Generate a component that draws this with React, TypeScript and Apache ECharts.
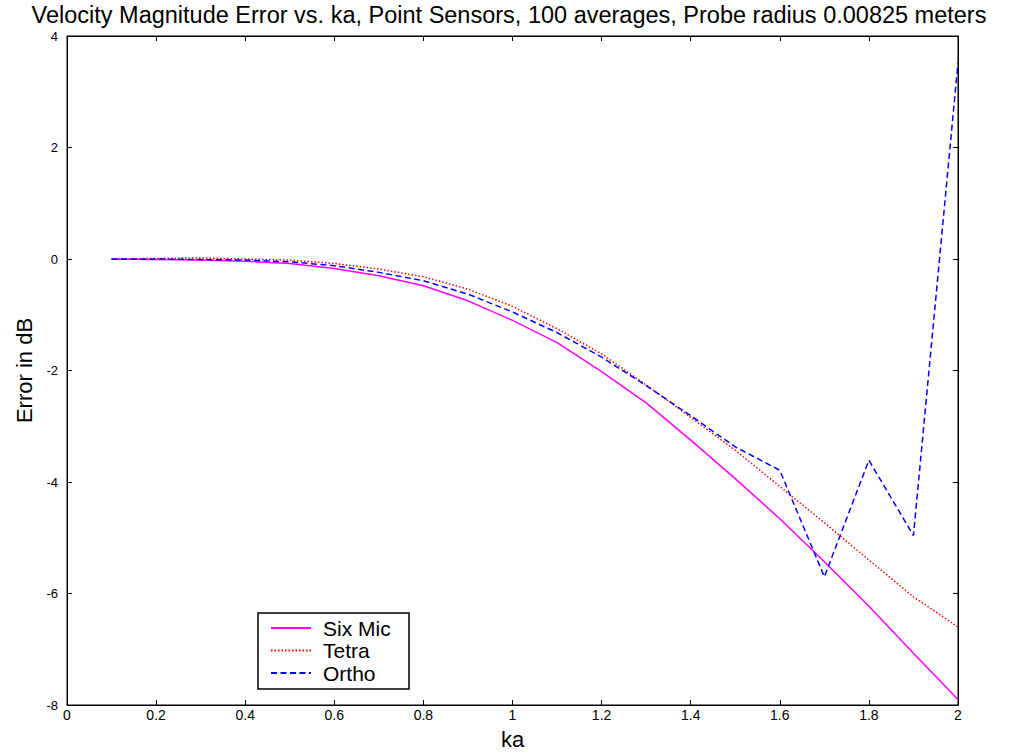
import React, { useEffect, useRef } from "react";
import * as echarts from "echarts";

const ka = [0.1, 0.2, 0.3, 0.4, 0.5, 0.6, 0.7, 0.8, 0.9, 1.0, 1.1, 1.2, 1.3, 1.4, 1.5, 1.6, 1.7, 1.8, 1.9, 2.0];
const sixMic = [0, -0.01, -0.02, -0.04, -0.08, -0.17, -0.30, -0.48, -0.75, -1.10, -1.50, -2.02, -2.58, -3.25, -3.94, -4.66, -5.43, -6.23, -7.07, -7.90];
const tetra = [0, 0.01, 0.02, 0.0, -0.02, -0.08, -0.18, -0.32, -0.54, -0.85, -1.25, -1.70, -2.26, -2.84, -3.43, -4.08, -4.73, -5.40, -6.06, -6.60];
const ortho = [0, 0, -0.01, -0.02, -0.05, -0.12, -0.24, -0.39, -0.63, -0.95, -1.32, -1.76, -2.27, -2.81, -3.37, -3.79, -5.70, -3.61, -4.96, 3.52];
const xTicks = [0, 0.2, 0.4, 0.6, 0.8, 1, 1.2, 1.4, 1.6, 1.8, 2];
const yTicks = [-8, -6, -4, -2, 0, 2, 4];

const FONT = "Liberation Sans, Arial, sans-serif";

export default function App() {
  const ref = useRef<HTMLDivElement>(null);
  useEffect(() => {
    if (!ref.current) return;
    const chart = echarts.init(ref.current, undefined, { renderer: "svg" });
    const pair = (ys: number[]) => ka.map((x, i) => [x, ys[i]]);
    const fmtX = (v: number) => {
      const r = Math.round(v * 10) / 10;
      return xTicks.includes(r) ? String(r) : "";
    };
    const axisCommon = {
      axisLine: { show: true, onZero: false, lineStyle: { color: "#000", width: 1 } },
      axisTick: { show: true, inside: true, length: 5, lineStyle: { color: "#000" } },
      splitLine: { show: false },
    };
    chart.setOption({
      animation: false,
      backgroundColor: "#fff",
      title: {
        text: "Velocity Magnitude Error vs. ka, Point Sensors, 100 averages, Probe radius 0.00825 meters",
        left: "center",
        top: 2,
        padding: 0,
        textStyle: { fontFamily: FONT, fontSize: 23.5, fontWeight: "normal", color: "#000", lineHeight: 26 },
      },
      grid: { left: 67, top: 36, width: 891, height: 671, show: true, borderColor: "#000", borderWidth: 1 },
      legend: {
        left: 258,
        top: 613,
        orient: "vertical",
        backgroundColor: "#fff",
        borderColor: "#000",
        borderWidth: 1.5,
        borderRadius: 0,
        padding: [4, 10, 5, 12],
        itemGap: 0.5,
        itemWidth: 40,
        itemHeight: 14,
        itemStyle: { opacity: 0, borderWidth: 0 },
        textStyle: { fontFamily: FONT, fontSize: 21, color: "#000", lineHeight: 22, width: 76, padding: [0, 0, 0, 7] },
        data: ["Six Mic", "Tetra", "Ortho"],
      },
      xAxis: [
        {
          type: "value",
          min: 0,
          max: 2,
          interval: 0.2,
          position: "bottom",
          name: "ka",
          nameLocation: "middle",
          nameGap: 23,
          nameTextStyle: { fontFamily: FONT, fontSize: 22, color: "#000" },
          axisLabel: { fontFamily: FONT, fontSize: 14, color: "#000", margin: 3, formatter: fmtX },
          ...axisCommon,
        },
        {
          type: "value",
          min: 0,
          max: 2,
          interval: 0.2,
          position: "top",
          axisLabel: { show: false },
          ...axisCommon,
        },
      ],
      yAxis: [
        {
          type: "value",
          min: -8,
          max: 4,
          interval: 2,
          position: "left",
          name: "Error in dB",
          nameLocation: "middle",
          nameGap: 30,
          nameRotate: 90,
          nameTextStyle: { fontFamily: FONT, fontSize: 22, color: "#000" },
          axisLabel: {
            fontFamily: FONT,
            fontSize: 13,
            color: "#000",
            margin: 9,
            formatter: (v: number) => (yTicks.includes(v) ? String(v) : ""),
          },
          ...axisCommon,
        },
        {
          type: "value",
          min: -8,
          max: 4,
          interval: 2,
          position: "right",
          axisLabel: { show: false },
          ...axisCommon,
        },
      ],
      series: [
        {
          name: "Six Mic",
          type: "line",
          data: pair(sixMic),
          showSymbol: false,
          symbol: "none",
          color: "#ff00ff",
          lineStyle: { color: "#ff00ff", width: 1.5, type: "solid" },
        },
        {
          name: "Tetra",
          type: "line",
          data: pair(tetra),
          showSymbol: false,
          symbol: "none",
          color: "#ff0000",
          lineStyle: { color: "#ff0000", width: 1.5, type: [1.5, 2] },
        },
        {
          name: "Ortho",
          type: "line",
          data: pair(ortho),
          showSymbol: false,
          symbol: "none",
          color: "#0000ff",
          lineStyle: { color: "#0000ff", width: 1.5, type: [6, 3.5] },
        },
      ],
    });
    return () => chart.dispose();
  }, []);
  return <div ref={ref} style={{ width: 1018, height: 755, position: "absolute", left: 0, top: 0 }} />;
}
